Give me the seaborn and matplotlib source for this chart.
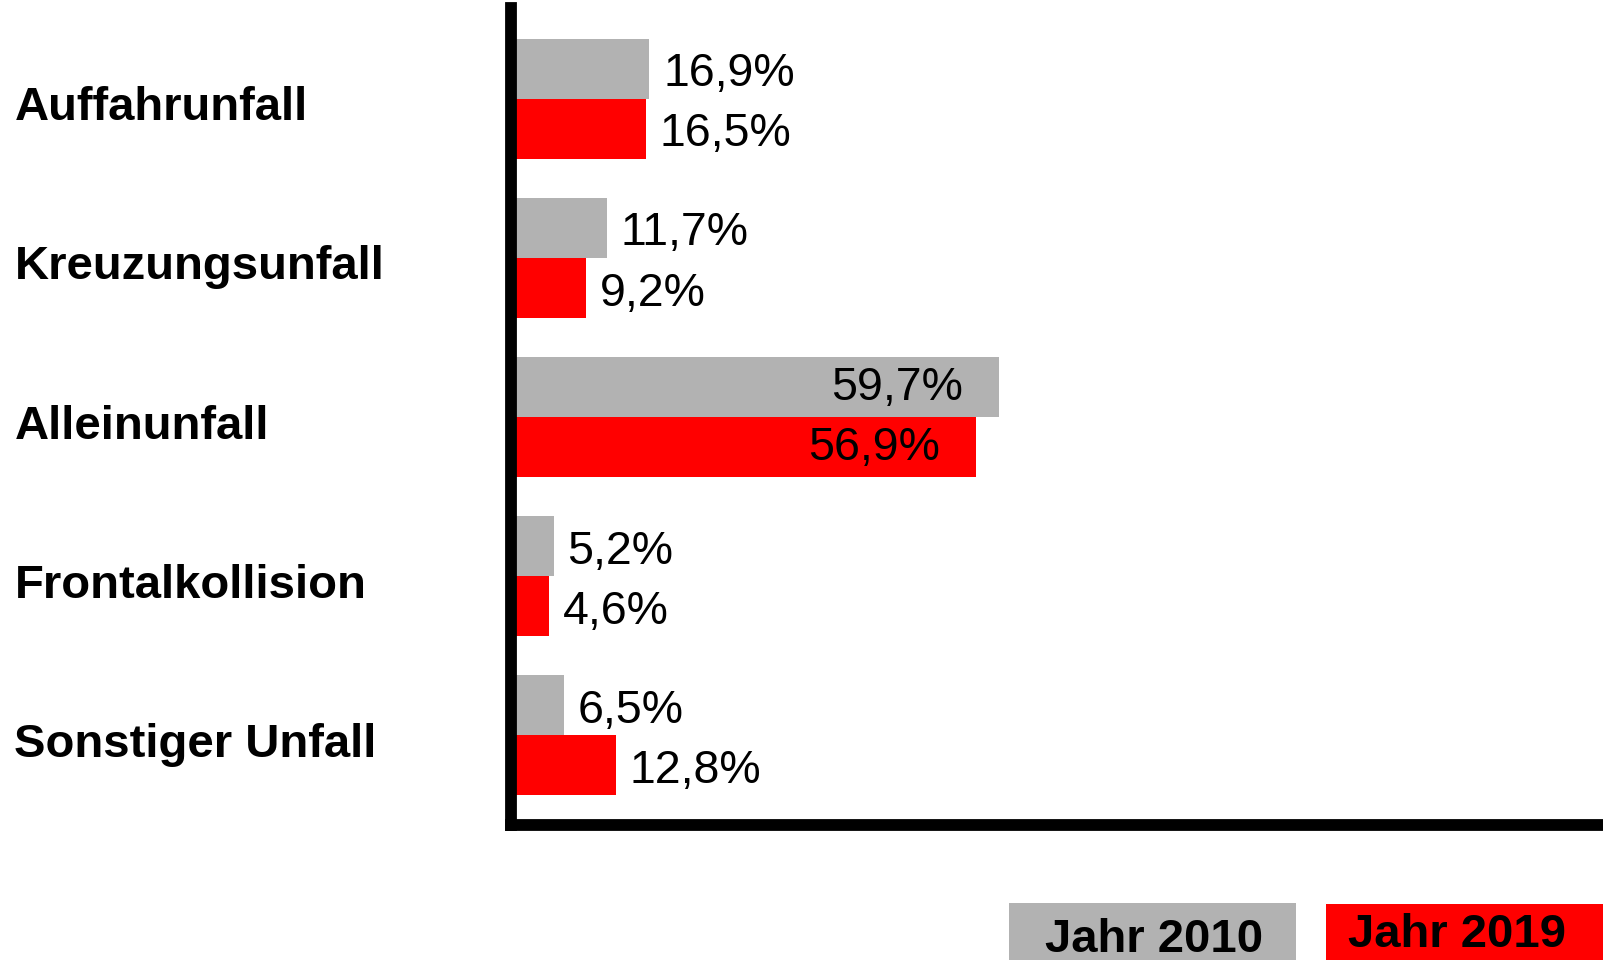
import pandas as pd
import matplotlib.pyplot as plt
import matplotlib.transforms as mtransforms
from matplotlib.patches import Rectangle
import seaborn as sns

# -----------------------------
# Data
# -----------------------------
categories = ["Auffahrunfall", "Kreuzungsunfall", "Alleinunfall",
              "Frontalkollision", "Sonstiger Unfall"]
years = ["Jahr 2010", "Jahr 2019"]
values_2010 = [16.9, 11.7, 59.7, 5.2, 6.5]
values_2019 = [16.5, 9.2, 56.9, 4.6, 12.8]
colors = ["#b2b2b2", "#ff0000"]

df = pd.DataFrame({
    "Unfallart": categories * 2,
    "Jahr": [years[0]] * len(categories) + [years[1]] * len(categories),
    "Anteil": values_2010 + values_2019,
})

# -----------------------------
# Style
# -----------------------------
sns.set_style("white")
plt.rcParams["font.family"] = ["Liberation Sans", "DejaVu Sans"]

fig = plt.figure(figsize=(16.03, 9.6), dpi=100)
ax = fig.add_axes([0.3188, 0.1406, 0.6812, 0.8511])

sns.barplot(data=df, y="Unfallart", x="Anteil", hue="Jahr",
            order=categories, hue_order=years, palette=colors,
            orient="h", width=0.755, saturation=1, linewidth=0,
            ax=ax, legend=False)

ax.set_xlim(0, 133.5)
ax.set_ylim(4.566, -0.572)
ax.set_xlabel("")
ax.set_ylabel("")
ax.set_xticks([])
ax.set_yticks([])

for side in ["top", "right"]:
    ax.spines[side].set_visible(False)
for side in ["left", "bottom"]:
    ax.spines[side].set_color("black")
    ax.spines[side].set_linewidth(8.5)
    ax.spines[side].set_zorder(5)

# -----------------------------
# Value labels
# -----------------------------
for container in ax.containers:
    for bar in container:
        v = bar.get_width()
        yc = bar.get_y() + bar.get_height() / 2
        label = f"{v:.1f}%".replace(".", ",")
        if v > 40:
            ax.annotate(label, (v, yc), xytext=(-26, -1), textcoords="offset points",
                        ha="right", va="center", fontsize=33.5, color="black")
        else:
            ax.annotate(label, (v, yc), xytext=(10, -4), textcoords="offset points",
                        ha="left", va="center", fontsize=33.5, color="black")

# -----------------------------
# Category labels
# -----------------------------
trans = mtransforms.blended_transform_factory(fig.transFigure, ax.transData)
for i, cat in enumerate(categories):
    ax.text(0.009, i + 0.06, cat, transform=trans, ha="left", va="center",
            fontsize=34, fontweight="bold", color="black", clip_on=False)

# -----------------------------
# Legend boxes
# -----------------------------
fig.patches.append(Rectangle((0.6294, 0.0), 0.179, 0.0594,
                             transform=fig.transFigure, facecolor=colors[0],
                             edgecolor="none"))
fig.patches.append(Rectangle((0.8272, 0.0), 0.1728, 0.0583,
                             transform=fig.transFigure, facecolor=colors[1],
                             edgecolor="none"))
fig.text(0.720, 0.021, years[0], ha="center", va="center",
         fontsize=34, fontweight="bold", color="black")
fig.text(0.909, 0.026, years[1], ha="center", va="center",
         fontsize=34, fontweight="bold", color="black")

fig.savefig("out.png", dpi=100)
